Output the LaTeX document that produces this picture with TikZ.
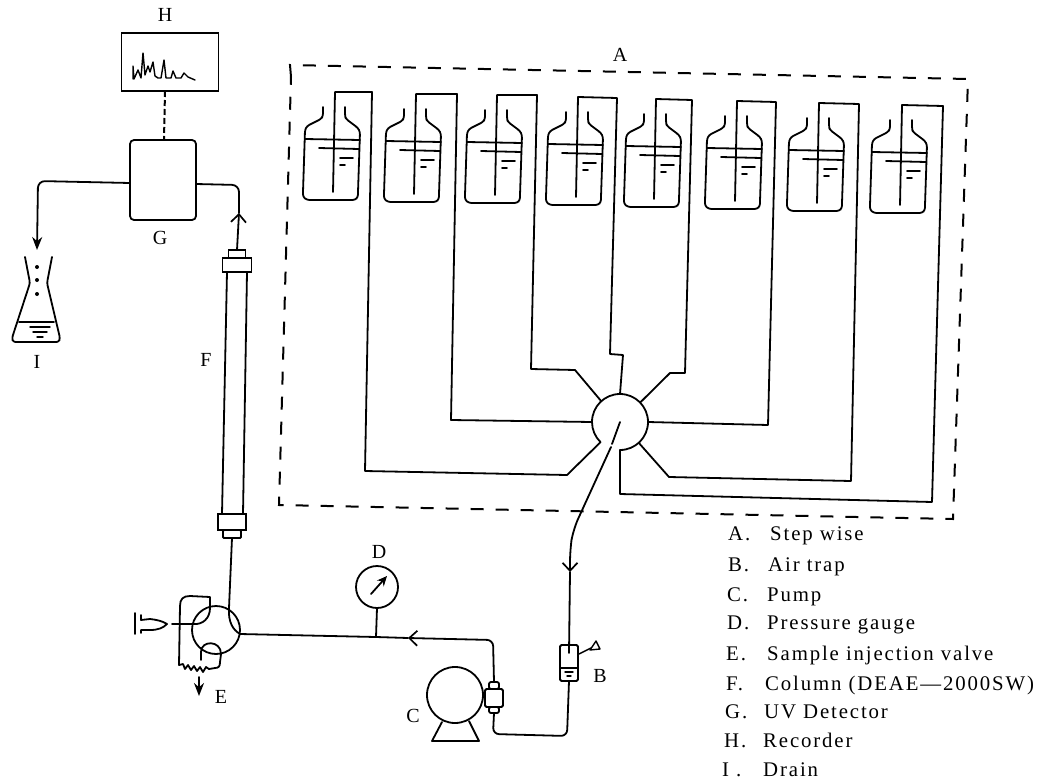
\documentclass[tikz,border=0pt]{standalone}
\usepackage{fontspec}
\usetikzlibrary{arrows.meta}
\setmainfont[LetterSpace=9]{Liberation Serif}
\tikzset{
  pipe/.style={line width=1.8pt,line join=round,line cap=round},
  thin pipe/.style={line width=1.4pt,line join=round,line cap=round},
  dashbox/.style={line width=2pt,dash pattern=on 13pt off 12pt},
  barb/.style={-{Straight Barb[length=8pt,width=15pt,line width=1.7pt]}},
  solidtip/.style={-{Stealth[length=13pt,width=10pt]}},
  lab/.style={font=\fontsize{20}{22}\selectfont,inner sep=0pt},
  legend/.style={font=\fontsize{20.8}{22}\selectfont,inner sep=0pt,anchor=west},
  box/.style={draw,line width=1.8pt,inner sep=0pt,outer sep=0pt,rectangle},
  round/.style={circle,inner sep=0pt,outer sep=0pt}
}
\newcommand{\bottle}[3]{%
  \begin{scope}[shift={(#2,#3)}]
    \draw[pipe,rounded corners=2.5pt] (19,-93) -- (19,-84) -- (17,-81) -- (3,-74) -- (1,-70) -- (-1,-8) -- (-1,-3) -- (3,0) -- (51,0) -- (54,-3) -- (54,-8) -- (56,-68) -- (54,-72) -- (42,-81) -- (41,-84) -- (41,-93);
    \draw[pipe] (1,-61) -- (56,-60);
    \draw[pipe] (15,-52) -- (55,-51);
    \draw[pipe] (36,-42) -- (49,-42);
    \draw[pipe] (36,-35) -- (41,-35);
    \coordinate (b#1 end) at (29,-8);
    \coordinate (b#1 top) at (31,-108);
  \end{scope}}
\begin{document}
\begin{tikzpicture}[x=1pt,y=-1pt]
\useasboundingbox (0,0) rectangle (1040,781);
% step-wise enclosure
\draw[dashbox] (291,77) -- (290,65) -- (968,79) -- (953,519) -- (279,505) -- cycle;
\node[lab] (A) at (620,55) {A};
% bottles
\bottle{1}{304}{200}
\bottle{2}{385}{202}
\bottle{3}{466}{203}
\bottle{4}{547}{205}
\bottle{5}{625}{207}
\bottle{6}{706}{209}
\bottle{7}{788}{211}
\bottle{8}{871}{213}
% selector valve
\node[round,minimum size=56pt] (v) at (620,422) {};
\draw[pipe] (v.270) arc[start angle=270,end angle=586,radius=28pt];
% bottle lines
\draw[pipe] (b1 end) -- (b1 top) -- (372,92) -- (365,471) -- (567,475) -- (v.226);
\draw[pipe] (b2 end) -- (b2 top) -- (457,94) -- (451,420) -- (v.180);
\draw[pipe] (b3 end) -- (b3 top) -- (537,95) -- (531,369) -- (575,370) -- (v.132);
\draw[pipe] (b4 end) -- (b4 top) -- (617,98) -- (610,354) -- (623,355) -- (v.90);
\draw[pipe] (b5 end) -- (b5 top) -- (692,100) -- (685,373) -- (670,373) -- (v.44);
\draw[pipe] (b6 end) -- (b6 top) -- (776,102) -- (768,425) -- (v.0);
\draw[pipe] (b7 end) -- (b7 top) -- (859,104) -- (851,481) -- (669,477) -- (v.312);
\draw[pipe] (b8 end) -- (b8 top) -- (943,106) -- (932,502) -- (620,494) -- (v.270);
% outlet of selector to trap
\coordinate (tipB) at (570,572);
\draw[pipe] (v.center) -- (612,444);
\draw[pipe,barb,rounded corners=12pt] (611,447) -- (573,530) -- (570,550) -- (tipB);
% air trap
\node[box,rounded corners=1.5pt,minimum width=18pt,minimum height=36pt] (B) at (569,663) {};
\coordinate (Bin) at (569,653);
\draw[pipe] (tipB) -- (Bin);
\draw[pipe] (B.west |- 0,668) -- (B.east |- 0,668);
\draw[thin pipe] (565,672) -- (573,672);
\draw[thin pipe] (567,676) -- (571,676);
\draw[thin pipe] (579,654) -- (591,648);
\draw[thin pipe] (590,650) -- (600,649) -- (596,641) -- cycle;
\node[lab] (Blab) at (600,676) {B};
% pump
\node[round,draw,line width=1.8pt,minimum size=56pt] (C) at (455,695) {};
\draw[pipe] (442,722) -- (432,741) -- (479,741) -- (469,721);
\node[box,rounded corners=1.5pt,minimum width=18pt,minimum height=18pt] (head) at (494,698) {};
\node[box,rounded corners=2pt,minimum width=10pt,minimum height=7pt,anchor=south] (cap1) at (head.north) {};
\node[box,rounded corners=2pt,minimum width=10pt,minimum height=6pt,anchor=north] (cap2) at (head.south) {};
\node[lab] (Clab) at (413,716) {C};
\draw[pipe,rounded corners=6pt] (B.south) -- (567,736) -- (493,734) -- (cap2.south);
% line to injection valve with gauge
\node[round,draw,line width=1.8pt,minimum size=42pt] (D) at (377,587) {};
\node[lab] (Dlab) at (379,552) {D};
\coordinate (tee) at (376,637);
\coordinate (tipL) at (408,638);
\draw[pipe,barb,rounded corners=6pt] (cap1.north) -- (493,640) -- (tipL);
\draw[pipe] (D.south) -- (tee);
\draw[pipe,-{Stealth[length=10pt,width=9pt]}] (371,594) -- (387,576);
% injection valve
\node[round,draw,line width=1.8pt,minimum size=48pt] (E) at (216,630) {};
\draw[pipe] (tipL) -- (tee) -- (240,634);
\draw[pipe] (172,624) -- (193,624) .. controls (203,625) and (210,618) .. (210,608) -- (210,597) -- (190,596) .. controls (183,596) and (180,599) .. (180,606) -- (179,665)
  -- (183,664) -- (185,669) -- (188,665) -- (191,670) -- (194,666) -- (197,671) -- (200,667) -- (203,672) -- (206,667) -- (209,669) -- (215,668) .. controls (219,668) and (220,666) .. (220,662) -- (221,654) .. controls (221,640) and (201,640) .. (201,652) -- (201,660);
\draw[pipe,solidtip] (199,677) -- (199,696);
\node[lab] (Elab) at (221,697) {E};
% syringe
\draw[pipe] (135,613) -- (135,634);
\draw[pipe] (141,615) -- (141,620) -- (150,619) .. controls (158,620) and (162,621) .. (167,624) .. controls (163,628) and (158,630) .. (150,630) -- (141,630) -- (141,633);
% column
\node[box,minimum width=28pt,minimum height=16pt] (colB) at (232,522) {};
\node[box,rounded corners=1pt,minimum width=18pt,minimum height=8pt,anchor=north] (capB) at (colB.south) {};
\node[box,minimum width=29pt,minimum height=14pt] (colT) at (237,265) {};
\node[box,minimum width=17pt,minimum height=8pt,anchor=south] (capT) at (colT.north) {};
\draw[pipe] (227,272) -- (222,514);
\draw[pipe] (247,272) -- (243,514);
\node[lab] (F) at (206,360) {F};
\coordinate (Eout) at (229,608);
\draw[pipe] (capB.south) -- (Eout) .. controls (228,622) and (233,630) .. (240,634);
% detector
\node[box,rounded corners=4pt,minimum width=66pt,minimum height=80pt] (G) at (163,180) {};
\node[lab] (Glab) at (160,238) {G};
\coordinate (tipT) at (239,213);
\draw[pipe,barb] (capT.north) -- (tipT);
\draw[pipe,rounded corners=7pt] (tipT) -- (239,185) -- (G.east |- 0,184);
% recorder
\node[box,minimum width=97pt,minimum height=58pt] (H) at (170,62) {};
\node[lab] (Hlab) at (165,15) {H};
\draw[line width=2pt,dash pattern=on 6pt off 3pt] ([xshift=-5pt]H.south) -- ([xshift=1pt]G.north);
\draw[thin pipe] (133,79) -- (133,66) -- (134,79) -- (138,70) -- (141,78) -- (143,53) -- (145,75) -- (148,66) -- (150,72) -- (153,62) -- (155,76) -- (158,78) -- (161,78) -- (164,60) -- (166,78) -- (171,78) -- (173,71) -- (176,78) -- (181,78) -- (184,73) -- (188,77) -- (195,80);
% flask
\coordinate (tipI) at (37,250);
\draw[pipe,solidtip,rounded corners=7pt] (G.west |- 0,183) -- (38,181) -- (tipI);
\draw[pipe,rounded corners=2.5pt] (25,257) -- (30,283) -- (12,338) -- (13,342) -- (59,342) -- (60,338) -- (47,283) -- (52,257);
\draw[pipe] (19,322) -- (54,322);
\draw[thin pipe] (30,327) -- (50,327);
\draw[thin pipe] (33,332) -- (47,332);
\draw[thin pipe] (37,337) -- (43,337);
\fill (37,267) circle[radius=2pt];
\fill (37,280) circle[radius=2pt];
\fill (37,294) circle[radius=2pt];
\node[lab] (Ilab) at (37,362) {I};
% legend
\node[legend] (l1) at (728,536) {\makebox[42pt][l]{A.}Step wise};
\node[legend] (l2) at (728,567) {\makebox[40pt][l]{B.}Air trap};
\node[legend] (l3) at (727,597) {\makebox[40pt][l]{C.}Pump};
\node[legend] (l4) at (727,625) {\makebox[40pt][l]{D.}Pressure gauge};
\node[legend] (l5) at (726,655) {\makebox[41pt][l]{E.}Sample injection valve};
\node[legend] (l6) at (726,685) {\makebox[39pt][l]{F.}Column (DEAE—2000SW)};
\node[legend] (l7) at (725,712) {\makebox[39pt][l]{G.}UV Detector};
\node[legend] (l8) at (724,740) {\makebox[39pt][l]{H.}Recorder};
\node[legend] (l9) at (722,770) {\makebox[41pt][l]{I .}Drain};
\end{tikzpicture}
\end{document}
